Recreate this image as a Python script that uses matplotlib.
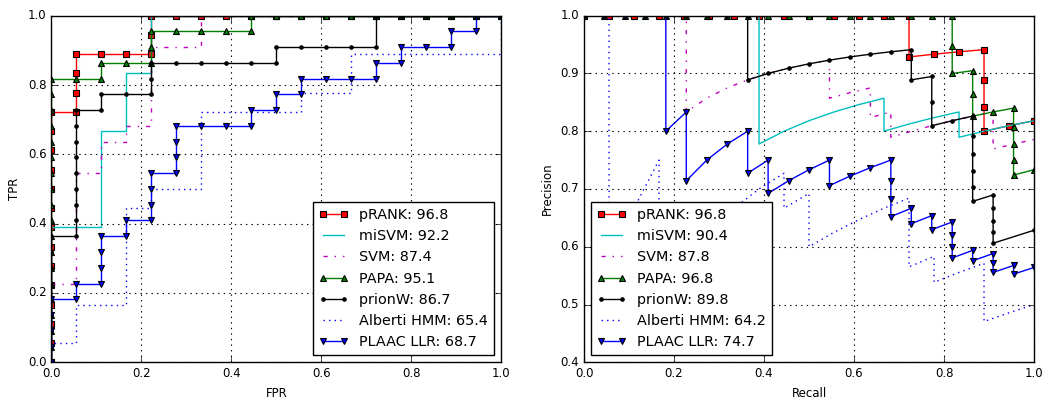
import matplotlib
matplotlib.use("Agg")
import matplotlib.pyplot as plt

plt.style.use("classic")
plt.rcParams.update({
    "font.family": ["DejaVu Sans"],
    "figure.facecolor": "white",
    "savefig.facecolor": "white",
    "axes.facecolor": "white",
})

# ---- data -----------------------------------------------------------------
methods = ["pRANK", "miSVM", "SVM", "PAPA", "prionW", "Alberti HMM", "PLAAC LLR"]
roc_auc = ["96.8", "92.2", "87.4", "95.1", "86.7", "65.4", "68.7"]
pr_auc = ["96.8", "90.4", "87.8", "96.8", "89.8", "64.2", "74.7"]

# Ranked labels of the test examples, best score first (P = positive, N = negative);
# examples sharing a score are grouped in parentheses.
rank_prank = "PPPPPPPPPPPPP N PPP NNN PP NNNNNNNNNNNNNN"
rank_misvm = "PPPPPPP NN PPPPP N PPP N PPP NNNNNNNNNNNNNN"
rank_svm = "PPPPP N PPPPPPP N PP N P N PPPPP NN PP NNNNNNNNNNNN"
rank_papa = "PPPPPPPPPPPPPPPPPP NN P NN PP NNNN P NNNNNNNNNN"
rank_prionw = "PPPPPPPP N PPPPPPPP N P NN PP NNNNN P NNNN (PP) NNNNN"
rank_alberti = "P N PP NN PPPPP N P NN PPPP NNNN P NN PP NNNNNN PP"
rank_plaac = "PPPP N P N PPP N P N PPP N PPP NNN P N P N P NNN P N P NN P N P N"
rankings = [rank_prank, rank_misvm, rank_svm, rank_papa, rank_prionw,
            rank_alberti, rank_plaac]

styles = [
    dict(color="r", ls="-", marker="s", ms=4.5),
    dict(color="c", ls="-", marker=None),
    dict(color="m", ls="-."),
    dict(color="g", ls="-", marker="^", ms=5),
    dict(color="k", ls="-", marker=".", ms=5),
    dict(color="b", ls=":"),
    dict(color="b", ls="-", marker="v", ms=5),
]


def parse(seq):
    s = seq.replace(" ", "")
    groups = []
    i = 0
    while i < len(s):
        if s[i] == "(":
            j = s.index(")", i)
            g = s[i + 1:j]
            groups.append((g.count("P"), g.count("N")))
            i = j + 1
        else:
            groups.append((1, 0) if s[i] == "P" else (0, 1))
            i += 1
    return groups


def curves(seq):
    groups = parse(seq)
    npos = sum(g[0] for g in groups)
    nneg = sum(g[1] for g in groups)
    tp = fp = 0
    fpr, tpr = [0.0], [0.0]
    rec, prec = [0.0], [1.0]
    full = False
    for p, n in groups:
        tp += p
        fp += n
        fpr.append(fp / nneg)
        tpr.append(tp / npos)
        if not full:
            rec.append(tp / npos)
            prec.append(tp / (tp + fp))
            if tp == npos:
                full = True
    return fpr, tpr, rec, prec


fig = plt.figure(figsize=(10.47, 3.99), dpi=100)
ax1 = fig.add_axes([0.049, 0.092, 0.4298, 0.8687])
ax2 = fig.add_axes([0.5578, 0.092, 0.4298, 0.8687])

for name, ra, pa, seq, st in zip(methods, roc_auc, pr_auc, rankings, styles):
    fpr, tpr, rec, prec = curves(seq)
    kw = dict(lw=1.0, mec="k", mew=0.8)
    kw.update(st)
    ax1.plot(fpr, tpr, label=f"{name}: {ra}", **kw)
    ax2.plot(rec, prec, label=f"{name}: {pa}", **kw)

for ax in (ax1, ax2):
    ax.set_xlim(0, 1)
    ax.grid(True, ls=":", color="k", lw=0.8)
    ax.tick_params(labelsize=8.5, direction="in", top=True, right=True, pad=3.5)
    ax.set_xticks([0.0, 0.2, 0.4, 0.6, 0.8, 1.0])

ax1.set_ylim(0, 1)
ax1.set_yticks([0.0, 0.2, 0.4, 0.6, 0.8, 1.0])
ax2.set_ylim(0.4, 1.0)
ax2.set_yticks([0.4, 0.5, 0.6, 0.7, 0.8, 0.9, 1.0])

ax1.set_xlabel("FPR", fontsize=8.5)
ax1.set_ylabel("TPR", fontsize=8.5)
ax2.set_xlabel("Recall", fontsize=8.5)
ax2.set_ylabel("Precision", fontsize=8.5)

ax1.legend(loc="lower right", fontsize=10.4, numpoints=2, fancybox=False,
           framealpha=1, edgecolor="k")
ax2.legend(loc="lower left", fontsize=10.4, numpoints=2, fancybox=False,
           framealpha=1, edgecolor="k")

fig.savefig("out.png", dpi=100)
